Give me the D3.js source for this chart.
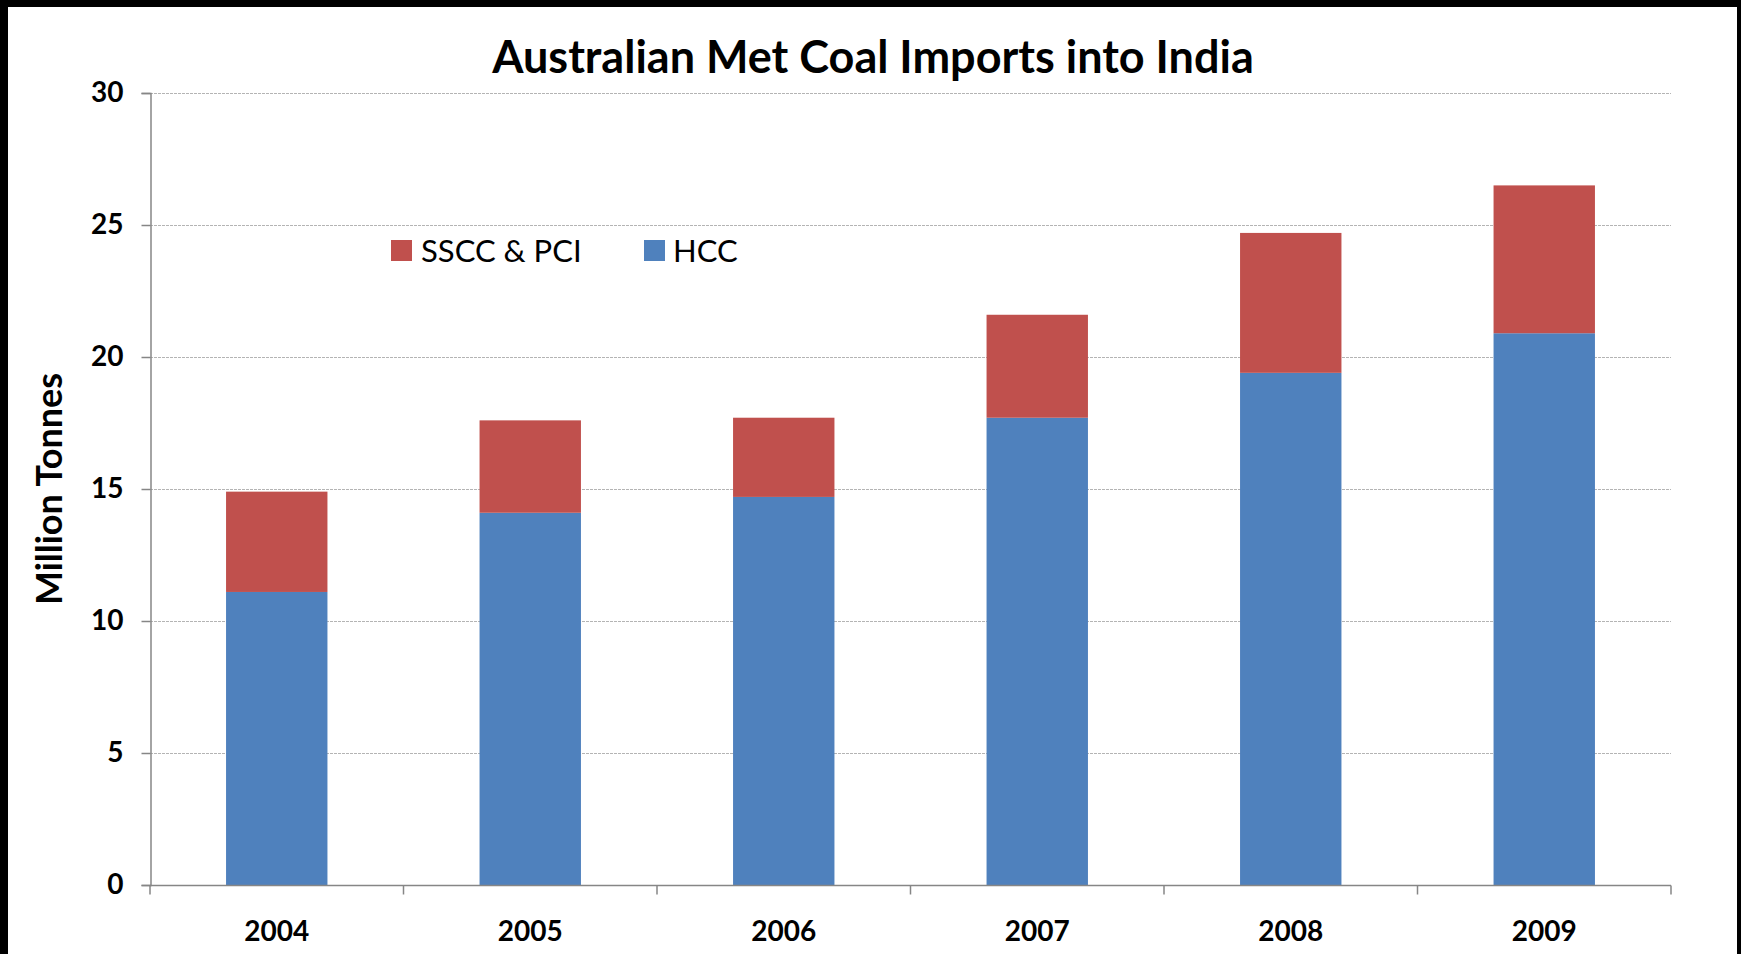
<!DOCTYPE html>
<html>
<head>
<meta charset="utf-8">
<script src="https://cdn.jsdelivr.net/npm/d3@7"></script>
<style>
  html, body { margin: 0; padding: 0; background: #fff; }
  svg { display: block; }
  text { font-family: Lato, "Open Sans", "DejaVu Sans", sans-serif; fill: #000; }
</style>
</head>
<body>
<svg id="chart" width="1741" height="954"></svg>
<script>
const categories = ["2004", "2005", "2006", "2007", "2008", "2009"];
const hccValues  = [11.1, 14.1, 14.7, 17.7, 19.4, 20.9];
const ssccValues = [3.8, 3.5, 3.0, 3.9, 5.3, 5.6];
const seriesNames = ["HCC", "SSCC & PCI"];
const yTicks = [0, 5, 10, 15, 20, 25, 30];
const titleText = "Australian Met Coal Imports into India";
const yTitleText = "Million Tonnes";

const colors = { "HCC": "#4F81BD", "SSCC & PCI": "#C0504D" };

const W = 1741, H = 954;
const svg = d3.select("#chart");

// frame
svg.append("rect").attr("x", 0).attr("y", 0).attr("width", W).attr("height", H).attr("fill", "#000");
svg.append("rect").attr("x", 8).attr("y", 7).attr("width", 1737 - 8).attr("height", H - 7).attr("fill", "#fff");

const plot = { left: 150, right: 1671, top: 93, bottom: 885 };

const x = d3.scaleBand().domain(categories).range([plot.left, plot.right]).paddingInner(0.6).paddingOuter(0.3);
const xb = d3.scaleBand().domain(categories).range([plot.left, plot.right]).padding(0);
const y = d3.scaleLinear().domain([0, 30]).range([plot.bottom, plot.top]);

// gridlines
svg.append("g").selectAll("line").data(yTicks.filter(t => t > 0)).join("line")
  .attr("x1", plot.left).attr("x2", plot.right)
  .attr("y1", d => y(d) + 0.5).attr("y2", d => y(d) + 0.5)
  .attr("stroke", "#b4b4b4").attr("stroke-width", 1).attr("stroke-dasharray", "3,1");

// stacked data
const rows = categories.map((c, i) => ({ cat: c, "HCC": hccValues[i], "SSCC & PCI": ssccValues[i] }));
const stack = d3.stack().keys(seriesNames)(rows);

svg.append("g").selectAll("g").data(stack).join("g")
  .attr("fill", d => colors[d.key])
  .selectAll("rect").data(d => d).join("rect")
  .attr("x", d => x(d.data.cat))
  .attr("width", x.bandwidth())
  .attr("y", d => y(d[1]))
  .attr("height", d => y(d[0]) - y(d[1]));

// y axis
const yAxis = d3.axisLeft(y).tickValues(yTicks).tickSize(9).tickPadding(18).tickFormat(d3.format("d"));
const gy = svg.append("g").attr("transform", `translate(${plot.left + 0.5},0)`).call(yAxis);
gy.select(".domain").attr("stroke", "#868686").attr("stroke-width", 1.5);
gy.selectAll(".tick line").attr("stroke", "#868686").attr("stroke-width", 1.5);
gy.selectAll(".tick text").attr("font-size", 28).attr("font-weight", 700)
  .style("font-family", "Lato, sans-serif");

// x axis with tick marks at band boundaries
const gx = svg.append("g").attr("transform", `translate(0,${plot.bottom + 0.5})`);
gx.append("line").attr("x1", plot.left).attr("x2", plot.right).attr("stroke", "#868686").attr("stroke-width", 1.5);
const boundaries = categories.map(c => xb(c)).concat([xb(categories[categories.length - 1]) + xb.bandwidth()]);
gx.selectAll("line.tk").data(boundaries).join("line").attr("class", "tk")
  .attr("x1", d => d).attr("x2", d => d).attr("y1", 0).attr("y2", 9)
  .attr("stroke", "#868686").attr("stroke-width", 1.5);
gx.selectAll("text").data(categories).join("text")
  .attr("x", d => xb(d) + xb.bandwidth() / 2)
  .attr("y", 55)
  .attr("text-anchor", "middle")
  .attr("font-size", 28).attr("font-weight", 700)
  .text(d => d);

// title
svg.append("text").attr("x", 873).attr("y", 73).attr("text-anchor", "middle")
  .attr("font-size", 45).attr("font-weight", 700).text(titleText);

// y title
svg.append("text").attr("transform", "translate(62,489) rotate(-90)")
  .attr("text-anchor", "middle").attr("font-size", 36).attr("font-weight", 700).text(yTitleText);

// legend
const legendItems = [
  { name: "SSCC & PCI", sx: 391, tx: 421 },
  { name: "HCC", sx: 644, tx: 673 }
];
const lg = svg.append("g");
lg.selectAll("rect").data(legendItems).join("rect")
  .attr("x", d => d.sx).attr("y", 240).attr("width", 21).attr("height", 21)
  .attr("fill", d => colors[d.name]);
lg.selectAll("text").data(legendItems).join("text")
  .attr("x", d => d.tx).attr("y", 262)
  .attr("font-size", 31).text(d => d.name);
</script>
</body>
</html>
